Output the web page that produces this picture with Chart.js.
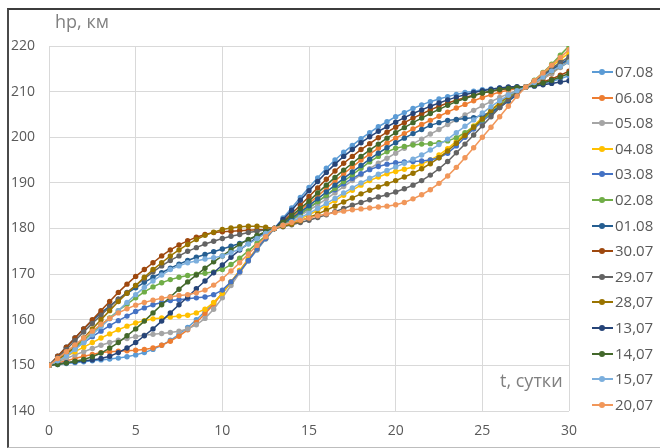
<!DOCTYPE html>
<html lang="ru">
<head>
<meta charset="UTF-8">
<title>hp vs t</title>
<script src="https://cdn.jsdelivr.net/npm/chart.js"></script>
<style>
  body { margin: 0; background: #fff; font-family: "Open Sans", sans-serif; }
  #wrap { position: relative; width: 660px; height: 448px; overflow: hidden; }
  #frame { position: absolute; left: 7px; top: 8px; width: 700px; height: 437px;
           border-top: 2px solid #3c3c3c; border-left: 2px solid #4a4a4a; border-bottom: 1px solid #bdbdbd;
           pointer-events: none; }
  .atitle { position: absolute; color: #808080; font-size: 18px; white-space: nowrap; }
  #legend { position: absolute; left: 592px; top: 0; }
  .li { position: absolute; left: 0; height: 20px; width: 70px; }
  .li .ln { position: absolute; left: 0; top: 9px; width: 21px; height: 2px; }
  .li .dt { position: absolute; left: 7px; top: 7px; width: 6px; height: 6px; border-radius: 50%; }
  .li .tx { position: absolute; left: 23px; top: -1px; font-size: 15px; color: #595959; }
</style>
</head>
<body>
<div id="wrap">
  <canvas id="c" width="660" height="448"></canvas>
  <div id="frame"></div>
  <div class="atitle" style="left:55px; top:9px;">hp, км</div>
  <div class="atitle" style="left:500px; top:368px;">t, сутки</div>
  <div id="legend"></div>
</div>
<script>
// time, days (step 0.5)
const days = [
  0,0.5,1,1.5,2,2.5,3,3.5,4,4.5,
  5,5.5,6,6.5,7,7.5,8,8.5,9,9.5,
  10,10.5,11,11.5,12,12.5,13,13.5,14,14.5,
  15,15.5,16,16.5,17,17.5,18,18.5,19,19.5,
  20,20.5,21,21.5,22,22.5,23,23.5,24,24.5,
  25,25.5,26,26.5,27,27.5,28,28.5,29,29.5,
  30];

// hp, km for each date
const h0708 = [
  150,150.2,150.4,150.6,150.8,151,151.2,151.4,151.6,151.9,
  152.3,152.8,153.5,154.4,155.5,156.8,158.3,160,161.8,163.7,
  165.8,168.1,170.5,172.9,175.3,177.7,180,182.3,184.5,186.8,
  189,191.1,193.2,195,196.7,198.2,199.7,201,202.3,203.4,
  204.5,205.4,206.3,207.1,207.8,208.4,208.9,209.4,209.8,210.1,
  210.4,210.6,210.8,210.9,211,211,211.3,211.7,212.2,212.8,
  213.5];
const h0608 = [
  150,150.5,151,151.5,152,152.4,152.8,153,153.1,153.2,
  153.3,153.5,153.8,154.4,155.3,156.4,157.8,159.4,161.3,163.4,
  165.8,168.3,170.8,173.3,175.7,177.9,180,181.2,182.5,184,
  185.5,187.1,188.8,190.4,192,193.5,195,196.3,197.6,198.7,
  199.8,200.8,201.8,202.8,203.7,204.6,205.5,206.4,207.2,208,
  208.7,209.3,209.9,210.3,210.7,211,211.8,212.8,214,215.4,
  216.8];
const h0508 = [
  150,150.8,151.5,152.3,153,153.7,154.4,155,155.5,155.9,
  156.3,156.6,156.8,157,157.2,157.5,158,158.9,160.3,162.3,
  164.8,167.5,170.3,172.9,175.5,177.8,180,180.9,181.8,182.9,
  184,185.2,186.5,187.8,189.2,190.5,191.8,193.1,194.3,195.4,
  196.5,197.6,198.6,199.6,200.7,201.7,202.8,203.8,204.9,205.9,
  206.9,207.8,208.7,209.5,210.3,211,211.8,212.8,214,215.3,
  216.5];
const h0408 = [
  150,151,152,153,154,155,156,156.9,157.8,158.6,
  159.3,159.8,160.2,160.4,160.6,160.8,161,161.5,162.3,163.8,
  165.8,168.3,170.8,173.2,175.5,177.8,180,180.6,181.3,182.1,
  183,184,185,186.1,187.3,188.4,189.5,190.5,191.3,192,
  192.5,193,193.5,194.1,195,196.1,197.5,199.1,200.8,202.5,
  204.3,206,207.6,209,210.2,211,212.3,213.9,215.5,217,
  218.5];
const h0308 = [
  150,151.3,152.5,153.8,155,156.3,157.5,158.7,159.8,160.8,
  161.8,162.6,163.3,163.8,164.2,164.4,164.6,164.8,165,165.5,
  166.5,168.3,170.5,173,175.5,177.8,180,181,182,183.2,
  184.5,185.9,187.2,188.5,189.8,191,192,192.9,193.6,194.1,
  194.4,194.6,194.7,194.8,195,195.5,196.5,198.1,200,201.8,
  203.5,205,206.5,208,209.5,211,212.2,213.5,214.8,216,
  217];
const h0208 = [
  150,151.2,152.5,154,155.5,157.2,158.8,160.4,162,163.4,
  164.8,166.1,167.2,168.1,168.8,169.3,169.7,170,170.2,170.5,
  171,172.1,173.5,175.1,176.8,178.4,180,181,182,183.2,
  184.5,185.9,187.3,188.8,190.3,191.8,193.2,194.6,195.8,196.8,
  197.6,198,198.3,198.5,198.6,198.8,199.2,199.9,201,202.3,
  203.8,205.4,207,208.6,210,211,212.5,214.2,216,218,
  220];
const h0108 = [
  150,152,154,156,158,159.8,161.5,163,164.5,165.8,
  167,168.2,169.3,170.3,171.3,172.2,173,173.7,174.3,174.9,
  175.5,176.1,176.7,177.5,178.3,179.1,180,181.1,182.3,183.6,
  185,186.5,188,189.5,191,192.4,193.8,195.2,196.5,197.7,
  198.8,199.8,200.8,201.7,202.6,203.2,203.7,203.9,204.1,204.3,
  204.8,205.5,206.6,207.9,209.3,211,212.2,213.5,214.8,216,
  217.2];
const h3007 = [
  150,152,154,156,158,160,162,164,166,167.8,
  169.5,171,172.5,174,175.3,176.4,177.3,178.1,178.7,179.1,
  179.3,179.4,179.5,179.6,179.7,179.8,180,181.6,183.3,185.1,
  187,188.9,190.8,192.6,194.3,195.8,197.3,198.6,199.9,201.1,
  202.2,203.2,204.2,205.1,206,206.8,207.5,208.1,208.7,209.2,
  209.7,210.1,210.4,210.7,210.9,211,211.5,212.1,212.8,213.6,
  214.5];
const h2907 = [
  150,151.7,153.5,155.4,157.3,159.2,161,162.8,164.5,166,
  167.5,169,170.5,171.8,173,174,175,175.8,176.6,177.2,
  177.8,178.3,178.7,179.1,179.4,179.7,180,180.4,180.8,181.3,
  181.8,182.4,183,183.7,184.4,185.1,185.7,186.3,186.9,187.4,
  188,188.7,189.5,190.5,191.7,193.1,194.7,196.6,198.5,200.5,
  202.5,204.5,206.5,208.3,209.8,211,212.3,213.7,215.1,216.4,
  217.6];
const h2807 = [
  150,151.2,152.5,154.2,156,158,160,162,164,165.8,
  167.5,169.3,171,172.5,174,175.3,176.5,177.6,178.5,179.2,
  179.8,180.1,180.4,180.5,180.5,180.3,180,180.5,181,181.7,
  182.4,183.2,184,184.9,185.8,186.7,187.6,188.4,189.1,189.8,
  190.5,191.3,192.1,193.1,194.2,195.5,197,198.7,200.4,202.2,
  204,205.8,207.5,209,210.2,211,212.1,213.2,214.4,215.5,
  216.6];
const h1307 = [
  150,150.3,150.6,150.8,151,151.2,151.5,152,152.8,153.8,
  155,156.5,158,159.7,161.5,163.3,165,166.8,168.5,170.3,
  172,173.7,175.3,176.7,178,179.1,180,182,184,186.2,
  188.3,190.3,192.3,194.1,195.8,197.3,198.8,200.1,201.3,202.3,
  203.3,204.3,205.2,206,206.8,207.5,208.2,208.8,209.3,209.8,
  210.2,210.5,210.8,211,211.1,211,211.2,211.5,211.8,212.1,
  212.4];
const h1407 = [
  150,150.2,150.5,150.9,151.3,151.9,152.7,153.8,155,156.5,
  158,159.7,161.5,163.3,165,166.7,168.3,169.8,171.3,172.7,
  174,175.3,176.5,177.6,178.5,179.3,180,181.4,182.8,184.4,
  186,187.8,189.5,191.2,192.8,194.3,195.8,197.2,198.5,199.8,
  201,202.1,203.2,204.2,205.2,206.1,207,207.8,208.5,209.1,
  209.7,210.1,210.5,210.7,210.9,211,211.4,211.9,212.5,213.2,
  214];
const h1507 = [
  150,151,152,153.5,155,156.7,158.5,160.2,162,163.8,
  165.5,167.1,168.5,169.8,171,171.8,172.5,172.9,173.3,173.6,
  174,174.7,175.5,176.6,177.8,178.9,180,180.7,181.5,182.4,
  183.3,184.4,185.5,186.6,187.8,188.9,190,191,191.9,192.7,
  193.5,194.3,195.2,196.1,197.2,198.4,199.6,201,202.4,203.8,
  205.3,206.7,208,209.2,210.2,211,212,213.2,214.5,215.5,
  216.5];
const h2007 = [
  150,151.5,153,154.5,156,157.5,159,160.3,161.5,162.4,
  163.2,163.8,164.3,164.7,165,165.3,165.5,165.9,166.5,167.6,
  169,170.7,172.5,174.4,176.3,178.2,180,180.7,181.3,181.8,
  182.3,182.8,183.2,183.5,183.8,184.1,184.3,184.5,184.7,184.9,
  185.2,185.7,186.5,187.4,188.5,189.9,191.5,193.4,195.5,197.7,
  200,202.2,204.5,206.8,209,211,212.4,214.1,215.8,217.5,
  219.2];

const names  = ['07.08','06.08','05.08','04.08','03.08','02.08','01.08','30.07','29.07','28,07','13,07','14,07','15,07','20,07'];
const values = [h0708,h0608,h0508,h0408,h0308,h0208,h0108,h3007,h2907,h2807,h1307,h1407,h1507,h2007];
const colors = ['#5B9BD5','#ED7D31','#A5A5A5','#FFC000','#4472C4','#70AD47','#255E91','#9E480E','#636363','#997300','#264478','#43682B','#7CAFDD','#F1975A'];

const yTicks = [140,150,160,170,180,190,200,210,220];
const xTicks = [0,5,10,15,20,25,30];

const datasets = values.map((v, i) => ({
  label: names[i],
  data: days.map((d, j) => ({ x: d, y: v[j] })),
  borderColor: colors[i],
  backgroundColor: colors[i],
  borderWidth: 1.5,
  pointRadius: 2.7,
  pointBorderWidth: 0,
  pointHoverRadius: 3,
  tension: 0,
  order: values.length - i
}));

const tickFont = { family: 'Open Sans', size: 14 };

new Chart(document.getElementById('c'), {
  type: 'line',
  data: { datasets },
  options: {
    responsive: false,
    animation: false,
    layout: { padding: { top: 46, right: 91, left: 0, bottom: 0 } },
    plugins: { legend: { display: false }, tooltip: { enabled: false } },
    scales: {
      x: {
        type: 'linear', min: 0, max: 30,
        afterBuildTicks: s => { s.ticks = xTicks.map(v => ({ value: v })); },
        afterFit: s => { s.height = 37; },
        grid: { color: '#d9d9d9', drawTicks: false },
        border: { display: false },
        ticks: { color: '#595959', font: tickFont, padding: 12, maxRotation: 0 }
      },
      y: {
        min: 140, max: 220,
        afterBuildTicks: s => { s.ticks = yTicks.map(v => ({ value: v })); },
        afterFit: s => { s.width = 49; },
        grid: { color: '#d9d9d9', drawTicks: false },
        border: { display: false },
        ticks: { color: '#595959', font: tickFont, padding: 14 }
      }
    }
  }
});

// legend, Excel style: short line with a marker
const leg = document.getElementById('legend');
names.forEach((n, i) => {
  const row = document.createElement('div');
  row.className = 'li';
  row.style.top = (62 + i * 25.6) + 'px';
  row.innerHTML = '<div class="ln" style="background:' + colors[i] + '"></div>' +
                  '<div class="dt" style="background:' + colors[i] + '"></div>' +
                  '<div class="tx">' + n + '</div>';
  leg.appendChild(row);
});
</script>
</body>
</html>
